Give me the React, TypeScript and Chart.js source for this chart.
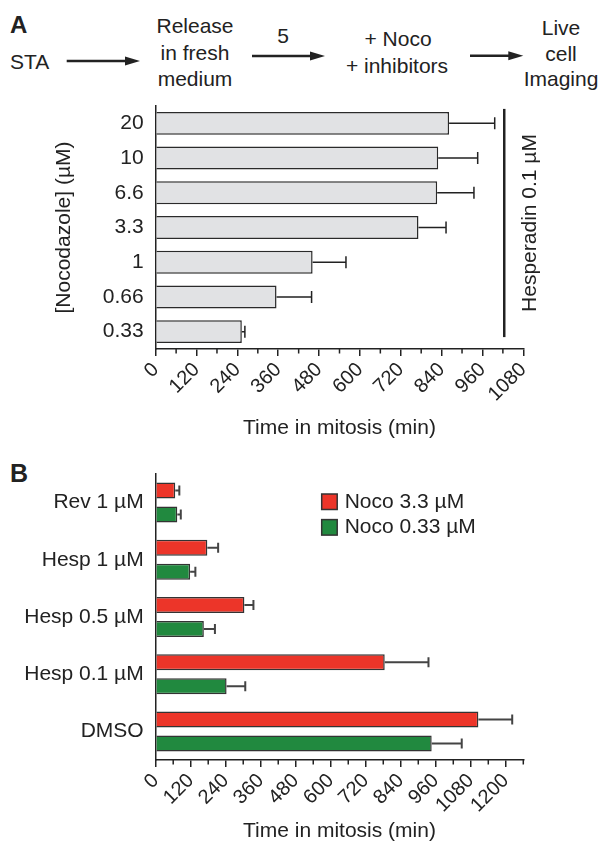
import React, { useEffect, useRef } from "react";
import { Chart, registerables } from "chart.js";

Chart.register(...registerables);

const FONT = '"Liberation Sans", Arial, Helvetica, sans-serif';
const INK = "#222222";
const FS = 21;

// ---------- Panel A data ----------
const nocoLabels = ["20", "10", "6.6", "3.3", "1", "0.66", "0.33"];
const nocoMeans = [862, 830, 827, 772, 461, 355, 253];
const nocoErrors = [134, 116, 108, 81, 98, 103, 9];
const axisMaxA = 1080;
const hespBracketValue = 1024;
const hespLabel = "Hesperadin 0.1 \u00b5M";
const yTitleA = "[Nocodazole] (\u00b5M)";

// ---------- Panel B data ----------
const treatmentLabels = ["Rev 1 \u00b5M", "Hesp 1 \u00b5M", "Hesp 0.5 \u00b5M", "Hesp 0.1 \u00b5M", "DMSO"];
const noco33Means = [67, 177, 304, 785, 1106];
const noco33Errors = [14, 37, 31, 150, 116];
const noco033Means = [74, 118, 165, 243, 946];
const noco033Errors = [12, 18, 38, 64, 103];
const seriesNames = ["Noco 3.3 \u00b5M", "Noco 0.33 \u00b5M"];
const seriesColors = ["#ec3529", "#21893f"];
const axisMaxB = 1260;

const majorStep = 120;
const minorStep = 60;
const xTitle = "Time in mitosis (min)";

const errorBarPlugin = {
  id: "errorBars",
  afterDatasetsDraw(chart: any, _args: any, opts: any) {
    const ctx = chart.ctx;
    const xs = chart.scales.x;
    chart.data.datasets.forEach((ds: any, i: number) => {
      const meta = chart.getDatasetMeta(i);
      meta.data.forEach((bar: any, j: number) => {
        const v = ds.data[j];
        const e = ds.errors[j];
        const x0 = bar.x;
        const x1 = xs.getPixelForValue(v + e);
        ctx.save();
        ctx.strokeStyle = opts.color;
        ctx.lineWidth = opts.width;
        ctx.beginPath();
        ctx.moveTo(x0, bar.y);
        ctx.lineTo(x1, bar.y);
        ctx.moveTo(x1, bar.y - opts.cap / 2);
        ctx.lineTo(x1, bar.y + opts.cap / 2);
        ctx.stroke();
        ctx.restore();
      });
    });
  },
};

const minorTickPlugin = {
  id: "minorTicks",
  afterDraw(chart: any, _args: any, opts: any) {
    const ctx = chart.ctx;
    const xs = chart.scales.x;
    const y0 = chart.chartArea.bottom;
    ctx.save();
    ctx.strokeStyle = INK;
    ctx.lineWidth = 1.5;
    ctx.beginPath();
    for (let v = 0; v <= opts.max; v += minorStep) {
      if (v % majorStep === 0) continue;
      const x = xs.getPixelForValue(v);
      ctx.moveTo(x, y0);
      ctx.lineTo(x, y0 + 4.5);
    }
    ctx.stroke();
    ctx.restore();
  },
};

const hespPlugin = {
  id: "hespBracket",
  afterDraw(chart: any) {
    const ctx = chart.ctx;
    const meta = chart.getDatasetMeta(0);
    const first = meta.data[0];
    const last = meta.data[meta.data.length - 1];
    const x = chart.scales.x.getPixelForValue(hespBracketValue);
    const top = first.y - first.height / 2 - 3;
    const bottom = last.y + last.height / 2 - 6;
    ctx.save();
    ctx.strokeStyle = INK;
    ctx.lineWidth = 2.5;
    ctx.beginPath();
    ctx.moveTo(x, top);
    ctx.lineTo(x, bottom);
    ctx.stroke();
    ctx.translate(x + 26, (top + bottom) / 2);
    ctx.rotate(-Math.PI / 2);
    ctx.fillStyle = INK;
    ctx.font = `${FS}px ${FONT}`;
    ctx.textAlign = "center";
    ctx.textBaseline = "middle";
    ctx.fillText(hespLabel, 0, 0);
    ctx.restore();
  },
};

const legendPlugin = {
  id: "customLegend",
  afterDraw(chart: any) {
    const ctx = chart.ctx;
    const left = chart.chartArea.left + 166;
    const top0 = chart.chartArea.top + 20;
    ctx.save();
    chart.data.datasets.forEach((ds: any, i: number) => {
      const y = top0 + i * 25.6;
      ctx.fillStyle = ds.backgroundColor;
      ctx.fillRect(left, y, 15.5, 15.5);
      ctx.strokeStyle = "#333";
      ctx.lineWidth = 1.5;
      ctx.strokeRect(left, y, 15.5, 15.5);
      ctx.fillStyle = INK;
      ctx.font = `${FS}px ${FONT}`;
      ctx.textAlign = "left";
      ctx.textBaseline = "middle";
      ctx.fillText(ds.label, left + 23, y + 8);
    });
    ctx.restore();
  },
};

function xAxis(max: number, height: number, titlePadBottom: number) {
  return {
    type: "linear",
    min: 0,
    max,
    afterFit: (s: any) => {
      s.height = height;
    },
    grid: {
      drawOnChartArea: false,
      drawTicks: true,
      tickLength: 7,
      lineWidth: 1.5,
      color: (c: any) => (c.tick && c.tick.value % majorStep === 0 ? INK : "rgba(0,0,0,0)"),
    },
    border: { display: true, color: INK, width: 1.5 },
    ticks: {
      stepSize: minorStep,
      autoSkip: false,
      minRotation: 45,
      maxRotation: 45,
      padding: 2,
      color: INK,
      font: { size: 20, family: FONT },
      callback: (v: any) => (Number(v) % majorStep === 0 ? String(v) : ""),
    },
    title: {
      display: true,
      text: xTitle,
      color: INK,
      font: { size: FS, family: FONT, lineHeight: 1 },
      padding: { top: 0, bottom: titlePadBottom },
    },
  };
}

function yAxisFit(s: any) {
  s.width = 155.7;
  s.paddingTop = 0;
  s.paddingBottom = 0;
}

export default function App() {
  const refA = useRef<HTMLCanvasElement | null>(null);
  const refB = useRef<HTMLCanvasElement | null>(null);

  useEffect(() => {
    const chartA = new Chart(refA.current as HTMLCanvasElement, {
      type: "bar",
      data: {
        labels: nocoLabels,
        datasets: [
          {
            label: "Hesperadin 0.1 \u00b5M",
            data: nocoMeans,
            errors: nocoErrors,
            backgroundColor: "#e1e2e4",
            borderColor: "#2a2a2a",
            borderWidth: 1.5,
            categoryPercentage: 1,
            barPercentage: 0.66,
          } as any,
        ],
      },
      options: {
        indexAxis: "y",
        responsive: false,
        animation: false,
        layout: { padding: { left: 0, right: 77.7, top: 6, bottom: 0 } },
        scales: {
          x: xAxis(axisMaxA, 101, 11) as any,
          y: {
            type: "category",
            afterFit: yAxisFit,
            grid: { display: false, drawTicks: false },
            border: { display: true, color: INK, width: 1.5 },
            ticks: { color: INK, padding: 12, font: { size: FS, family: FONT } },
            title: {
              display: true,
              text: yTitleA,
              color: INK,
              font: { size: FS, family: FONT, lineHeight: 1 },
              padding: { top: 54, bottom: 0 },
            },
          },
        },
        plugins: {
          legend: { display: false },
          tooltip: { enabled: false },
          errorBars: { color: INK, width: 1.5, cap: 12 },
          minorTicks: { max: axisMaxA },
        } as any,
      },
      plugins: [errorBarPlugin, minorTickPlugin, hespPlugin],
    });

    const chartB = new Chart(refB.current as HTMLCanvasElement, {
      type: "bar",
      data: {
        labels: treatmentLabels,
        datasets: [
          {
            label: seriesNames[0],
            data: noco33Means,
            errors: noco33Errors,
            backgroundColor: seriesColors[0],
            borderColor: "#333",
            borderWidth: 1.5,
            categoryPercentage: 0.839,
            barPercentage: 0.667,
          } as any,
          {
            label: seriesNames[1],
            data: noco033Means,
            errors: noco033Errors,
            backgroundColor: seriesColors[1],
            borderColor: "#333",
            borderWidth: 1.5,
            categoryPercentage: 0.839,
            barPercentage: 0.667,
          } as any,
        ],
      },
      options: {
        indexAxis: "y",
        responsive: false,
        animation: false,
        layout: { padding: { left: 0, right: 77.7, top: 14, bottom: 0 } },
        scales: {
          x: xAxis(axisMaxB, 82, 0) as any,
          y: {
            type: "category",
            afterFit: yAxisFit,
            grid: { display: false, drawTicks: false },
            border: { display: true, color: INK, width: 1.5 },
            ticks: { color: INK, padding: 12, font: { size: FS, family: FONT } },
          },
        },
        plugins: {
          legend: { display: false },
          tooltip: { enabled: false },
          errorBars: { color: "#444", width: 2, cap: 10 },
          minorTicks: { max: axisMaxB },
        } as any,
      },
      plugins: [errorBarPlugin, minorTickPlugin, legendPlugin],
    });

    return () => {
      chartA.destroy();
      chartB.destroy();
    };
  }, []);

  const textStyle: any = { fontFamily: FONT, fontSize: FS, fill: INK };
  const arrow = (x1: number, x2: number, y: number) => (
    <g>
      <line x1={x1} y1={y} x2={x2 - 12} y2={y} stroke={INK} strokeWidth={2.6} />
      <polygon points={`${x2},${y} ${x2 - 15},${y - 4.5} ${x2 - 15},${y + 4.5}`} fill={INK} />
    </g>
  );

  return (
    <div style={{ position: "absolute", left: 0, top: 0, width: 601, height: 842, background: "#fff" }}>
      <svg width={601} height={100} style={{ position: "absolute", left: 0, top: 0 }}>
        <text x={10} y={33} style={{ ...textStyle, fontSize: 24, fontWeight: "bold" }}>A</text>
        <text x={10} y={68.5} style={textStyle}>STA</text>
        {arrow(66.7, 140, 61)}
        <text x={195} y={33.3} textAnchor="middle" style={textStyle}>Release</text>
        <text x={195} y={59.5} textAnchor="middle" style={textStyle}>in fresh</text>
        <text x={195} y={85.7} textAnchor="middle" style={textStyle}>medium</text>
        <text x={283} y={43.3} textAnchor="middle" style={textStyle}>5</text>
        {arrow(252, 325, 56)}
        <text x={398} y={46.3} textAnchor="middle" style={textStyle}>+ Noco</text>
        <text x={397} y={72.5} textAnchor="middle" style={textStyle}>+ inhibitors</text>
        {arrow(470, 523.3, 55.7)}
        <text x={561} y={35} textAnchor="middle" style={textStyle}>Live</text>
        <text x={561} y={61.3} textAnchor="middle" style={textStyle}>cell</text>
        <text x={561} y={86} textAnchor="middle" style={textStyle}>Imaging</text>
      </svg>
      <canvas ref={refA} width={601} height={350} style={{ position: "absolute", left: 0, top: 100, display: "block" }} />
      <svg width={60} height={40} style={{ position: "absolute", left: 0, top: 450 }}>
        <text x={10} y={31.7} style={{ ...textStyle, fontSize: 25, fontWeight: "bold" }}>B</text>
      </svg>
      <canvas ref={refB} width={601} height={382} style={{ position: "absolute", left: 0, top: 460, display: "block" }} />
    </div>
  );
}
